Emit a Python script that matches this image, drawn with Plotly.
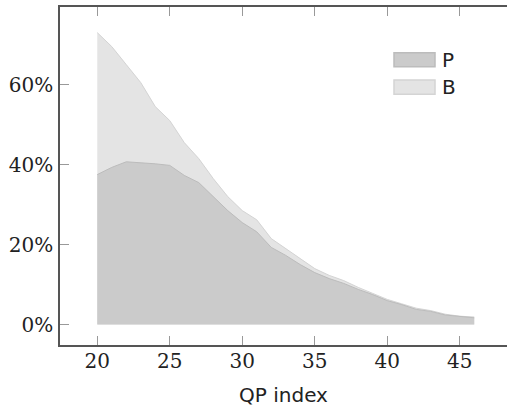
import plotly.graph_objects as go

qp = list(range(20, 47))
p_vals = [37.5, 39.3, 40.7, 40.5, 40.2, 39.8, 37.3, 35.5, 32.0, 28.5, 25.5, 23.2,
          19.3, 17.3, 15.0, 13.0, 11.5, 10.3, 8.8, 7.5, 6.0, 5.0, 3.8, 3.3, 2.4, 2.0, 1.7]
b_vals = [73.0, 69.5, 65.0, 60.5, 54.5, 51.0, 45.5, 41.5, 36.5, 32.0, 28.5, 26.2,
          21.5, 19.0, 16.5, 14.0, 12.3, 11.0, 9.3, 7.9, 6.3, 5.2, 4.1, 3.5, 2.6, 2.1, 1.9]
x_ticks = [20, 25, 30, 35, 40, 45]
y_ticks = [0, 20, 40, 60]
y_tick_labels = ["0%", "20%", "40%", "60%"]
series_names = ["P", "B"]
p_fill, p_edge = "#cbcbcb", "#bcbcbc"
b_fill, b_edge = "#e4e4e4", "#d4d4d4"

W, H = 507, 407
L, R, T, B = 60, 0, 7, 62
x_range = [17.43, 48.26]
y_range = [-5.1, 79.4]

fig = go.Figure()
fig.add_trace(go.Scatter(x=qp, y=b_vals, mode="lines", fill="tozeroy",
                         fillcolor=b_fill, line=dict(color=b_edge, width=1),
                         name="B", showlegend=False))
fig.add_trace(go.Scatter(x=qp, y=p_vals, mode="lines", fill="tozeroy",
                         fillcolor=p_fill, line=dict(color=p_edge, width=1),
                         name="P", showlegend=False))

serif = dict(family="DejaVu Serif", size=20, color="#222")
sans = dict(family="DejaVu Sans", size=20, color="#222")

fig.update_layout(
    width=W, height=H, margin=dict(l=L, r=R, t=T, b=B),
    plot_bgcolor="white", paper_bgcolor="white",
    xaxis=dict(range=x_range, tickvals=x_ticks, ticks="inside", ticklen=9,
               tickcolor="#999", tickwidth=1, showline=True, mirror="ticks",
               linecolor="#555", linewidth=1.5, showgrid=False, zeroline=False,
               tickfont=dict(serif), ticklabelstandoff=-3,
               title=dict(text="QP index", font=dict(sans), standoff=19)),
    yaxis=dict(range=y_range, tickvals=y_ticks, ticktext=y_tick_labels,
               ticks="inside", ticklen=9, tickcolor="#999", tickwidth=1,
               showline=True, linecolor="#555", linewidth=1.5,
               showgrid=False, zeroline=False, tickfont=dict(serif),
               ticklabelstandoff=1),
    yaxis2=dict(range=y_range, overlaying="y", side="right", tickvals=y_ticks,
                ticks="inside", ticklen=5, tickcolor="#999", tickwidth=1,
                showline=False, showgrid=False, zeroline=False,
                showticklabels=False),
)

pw, ph = W - L - R, H - T - B
def px(xp):
    return (xp - L) / pw
def py(yp):
    return (H - B - yp) / ph

legend_rows = [(series_names[0], p_fill, p_edge, 52.7, 66.7),
               (series_names[1], b_fill, b_edge, 80.0, 94.3)]
for name, fc, ec, y0, y1 in legend_rows:
    fig.add_shape(type="rect", xref="paper", yref="paper",
                  x0=px(394), x1=px(435), y0=py(y1), y1=py(y0),
                  fillcolor=fc, line=dict(color=ec, width=1.5))
    fig.add_annotation(xref="paper", yref="paper", x=px(440), y=py((y0 + y1) / 2),
                       text=name, showarrow=False, xanchor="left", yanchor="middle",
                       font=dict(sans))

fig.write_html("out.html")
